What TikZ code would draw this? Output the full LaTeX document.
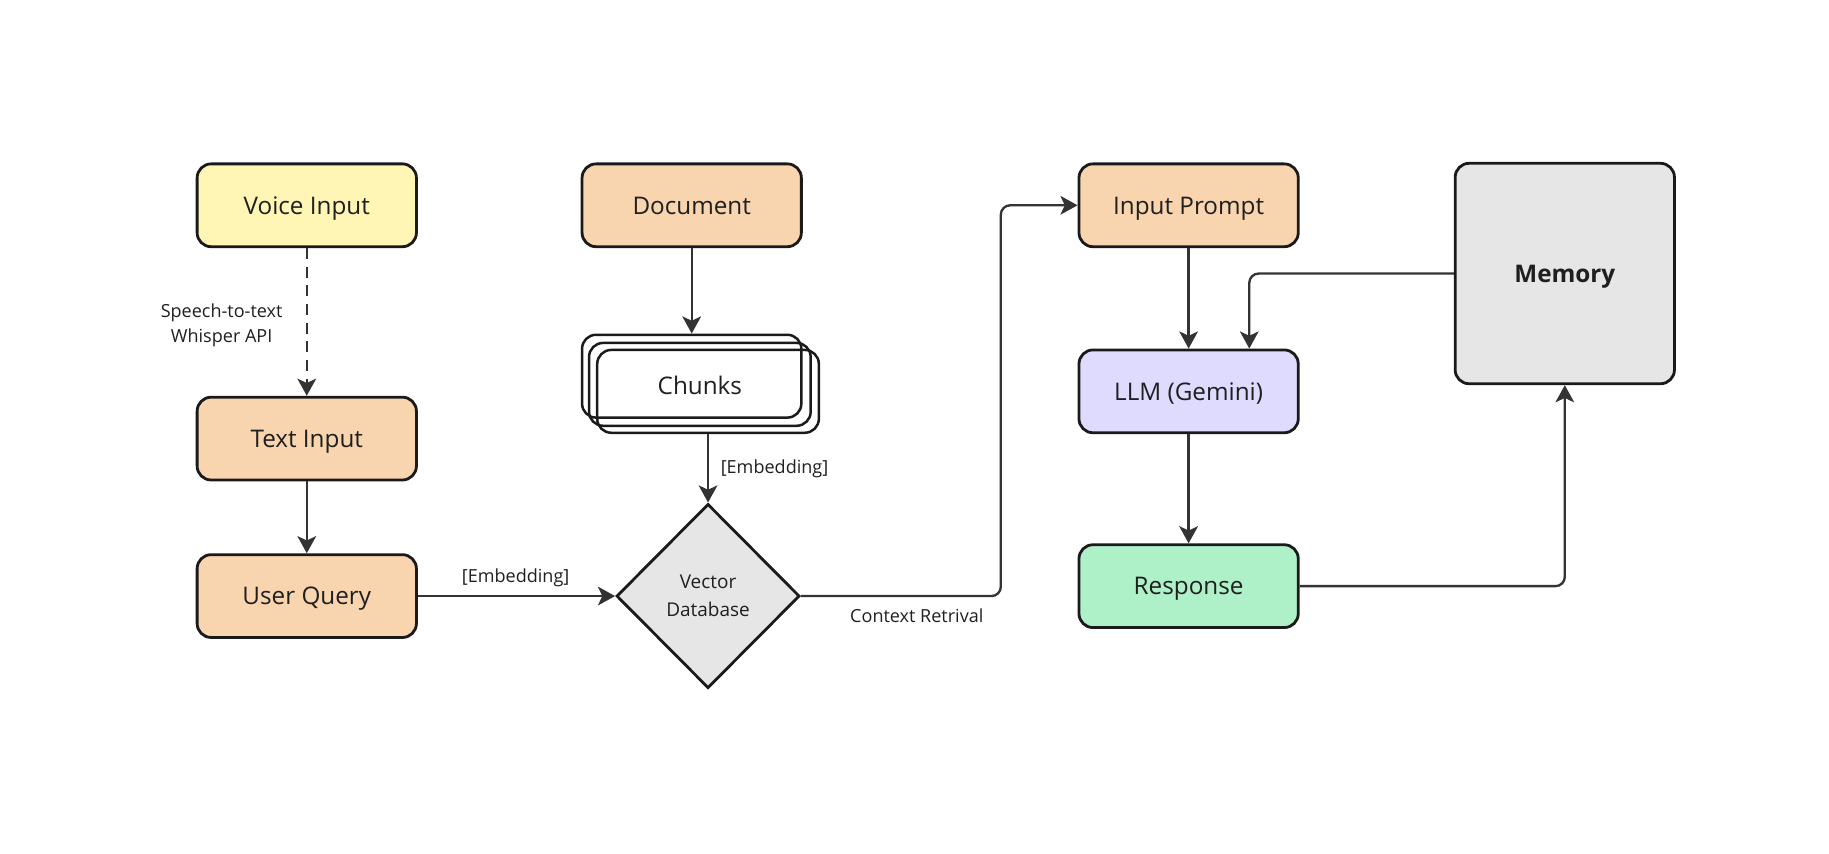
\documentclass[tikz,border=0pt]{standalone}
\usepackage{fontspec}
\setmainfont{Open Sans}
\usetikzlibrary{shapes.geometric,arrows.meta,calc}
\definecolor{bordc}{HTML}{1A1A1A}
\definecolor{arrc}{HTML}{333333}
\definecolor{txtc}{HTML}{1F1F1F}
\definecolor{yellowf}{HTML}{FFF6B6}
\definecolor{orangef}{HTML}{F8D4AF}
\definecolor{lavf}{HTML}{DEDBFF}
\definecolor{mintf}{HTML}{AEF0C8}
\definecolor{grayf}{HTML}{E6E6E6}
\tikzset{
  box/.style={rectangle, rounded corners=9pt, draw=bordc, line width=1.8pt,
    minimum width=141pt, minimum height=53.25pt, inner sep=0pt,
    font=\fontsize{15.6}{18}\selectfont, text=txtc, text height=11.2pt, text depth=0pt},
  chunkbox/.style={rectangle, rounded corners=9pt, draw=bordc, line width=1.6pt,
    minimum width=141pt, minimum height=53.25pt, inner sep=0pt},
  arr/.style={draw=arrc, line width=1.5pt, -{Stealth[length=11pt,width=12pt,inset=2.8pt]}},
  lbl/.style={font=\fontsize{11.6}{16.5}\selectfont, text=txtc, align=center, inner sep=0pt},
}
\begin{document}
\begin{tikzpicture}[x=0.75pt,y=-0.75pt]
\useasboundingbox (0,0) rectangle (1568,732);
% nodes
\node[box, fill=yellowf] (voice) at (263,176) {Voice Input};
\node[box, fill=orangef] (textin) at (263,376) {Text Input};
\node[box, fill=orangef] (uq) at (263,511) {User Query};
\node[box, fill=orangef] (doc) at (593,176) {Document};
\node[chunkbox] (c1) at (593,322.5) {};
\node[chunkbox, minimum width=142.5pt] (c2) at (600,329.5) {};
\node[chunkbox, minimum width=142.5pt] (c3) at (607,335.5) {};
\node[font=\fontsize{15.6}{18}\selectfont, text=txtc, text height=11.2pt, text depth=0pt, inner sep=0pt] (chunks) at (600,330.5) {Chunks};
\node[diamond, aspect=1, draw=bordc, line width=1.8pt, fill=grayf,
  minimum width=117.75pt, minimum height=118.5pt, inner sep=0pt,
  font=\fontsize{12.2}{18}\selectfont, text=txtc, align=center] (db) at (607,511) {Vector\\Database};
\node[box, fill=orangef] (ip) at (1019,176) {Input Prompt};
\node[box, fill=lavf] (llm) at (1019,335.5) {LLM (Gemini)};
\node[box, fill=mintf] (resp) at (1019,502.5) {Response};
\node[box, fill=grayf, minimum height=141.75pt] (mem) at (1341.5,234.5) {\bfseries Memory};
% connectors
\draw[arr, dashed, dash pattern=on 7pt off 5pt] (voice) -- (textin);
\node[lbl] (stt) at (190,279) {Speech-to-text\\Whisper API};
\draw[arr] (textin) -- (uq);
\draw[arr] (uq) -- (db.west);
\node[lbl] (emb1) at (442,495) {[Embedding]};
\draw[arr] (doc) -- (c1.north);
\draw[arr] (c3.south) -- (db.north);
\node[lbl] (emb2) at (664,402) {[Embedding]};
\coordinate (cr) at (858,511);
\draw[arr, rounded corners=6pt] (db.east) -- (cr) -- (cr |- ip.west) -- (ip.west);
\node[lbl] (ctx) at (786,528) {Context Retrival};
\draw[arr] (ip) -- (llm);
\draw[arr] (llm) -- (resp);
\draw[arr, rounded corners=6pt] (mem.west) -| ([xshift=39pt]llm.north);
\draw[arr, rounded corners=6pt] (resp.east) -| (mem.south);
\end{tikzpicture}
\end{document}
